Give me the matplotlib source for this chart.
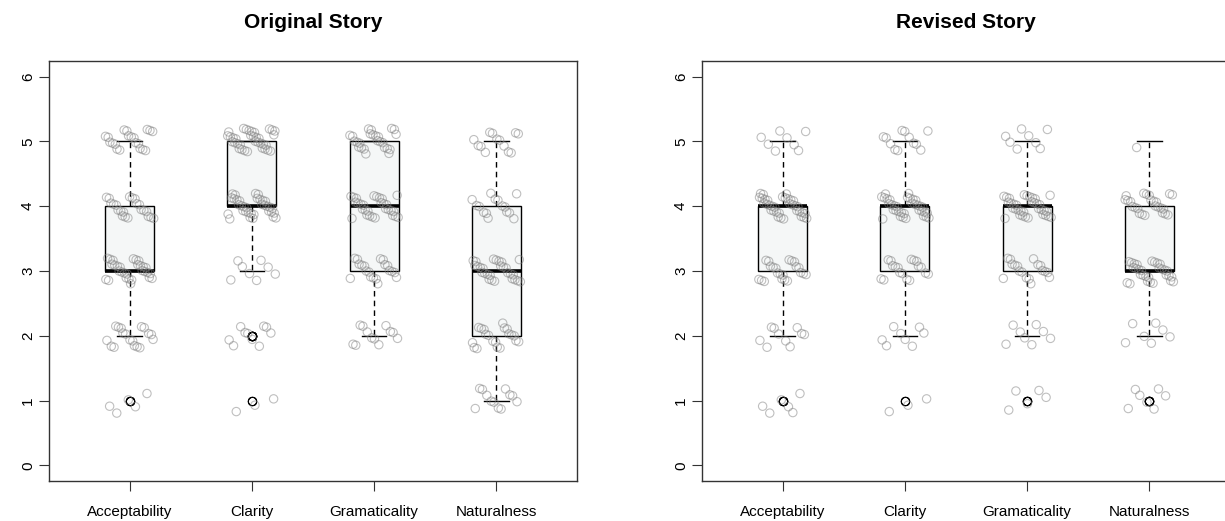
import numpy as np
import matplotlib.pyplot as plt

plt.rcParams['font.family'] = ['Liberation Sans', 'DejaVu Sans']

categories = ['Acceptability', 'Clarity', 'Gramaticality', 'Naturalness']
ratings = [1, 2, 3, 4, 5]

# how many answers got each rating (1..5)
original_counts = [
    [5, 18, 30, 22, 20],   # Acceptability
    [3, 10, 8, 35, 35],    # Clarity
    [0, 12, 20, 30, 25],   # Gramaticality
    [12, 20, 28, 15, 13],  # Naturalness
]
revised_counts = [
    [6, 10, 22, 35, 8],
    [3, 8, 18, 35, 12],
    [5, 8, 18, 35, 8],
    [7, 7, 30, 25, 1],
]
titles = ['Original Story', 'Revised Story']


def expand(counts):
    return [np.repeat(ratings, c).astype(float) for c in counts]


def spread(n, a, off):
    # deterministic jitter in [-0.2, 0.2]
    k = np.arange(n) + off
    return ((k * a) % 1.0 - 0.5) * 0.4


fig = plt.figure(figsize=(12.25, 5.21), dpi=100)
ax1 = fig.add_axes([49 / 1225, 40 / 521, 528 / 1225, 420 / 521])
ax2 = fig.add_axes([702 / 1225, 40 / 521, 528 / 1225, 420 / 521])

for ax, counts, title in zip([ax1, ax2], [original_counts, revised_counts], titles):
    data = expand(counts)
    ax.boxplot(data, positions=[1, 2, 3, 4], widths=0.4, patch_artist=True,
               boxprops=dict(facecolor='#f5f7f7', edgecolor='black', linewidth=1),
               medianprops=dict(color='black', linewidth=2.6),
               whiskerprops=dict(color='black', linewidth=1, linestyle=(0, (4, 3))),
               capprops=dict(color='black', linewidth=1),
               capwidths=0.2,
               flierprops=dict(marker='o', markersize=6, markerfacecolor='none',
                               markeredgecolor='black', markeredgewidth=0.7))
    for i, vals in enumerate(data):
        n = len(vals)
        xs = i + 1 + spread(n, 0.6180339887, 7 * i + 1)
        ys = vals + spread(n, 0.7548776662, 11 * i + 3)
        ax.scatter(xs, ys, s=36, facecolors='none', edgecolors='gray',
                   linewidths=0.8, alpha=0.5, zorder=3)

    ax.set_xlim(0.34, 4.66)
    ax.set_ylim(-0.24, 6.24)
    ax.set_xticks([1, 2, 3, 4])
    ax.set_xticklabels(categories, fontsize=11)
    ax.set_yticks(range(7))
    ax.set_yticklabels([str(v) for v in range(7)], fontsize=11, rotation=90, va='center')
    ax.tick_params(axis='x', length=7, width=0.8, pad=10, colors='#333333', labelcolor='black')
    ax.tick_params(axis='y', length=7, width=0.8, pad=3, colors='#333333', labelcolor='black')
    for sp in ax.spines.values():
        sp.set_color('#333333')
        sp.set_linewidth(1)
    ax.set_title(title, fontsize=15, fontweight='bold', pad=24)

fig.savefig('out.png', dpi=100)
